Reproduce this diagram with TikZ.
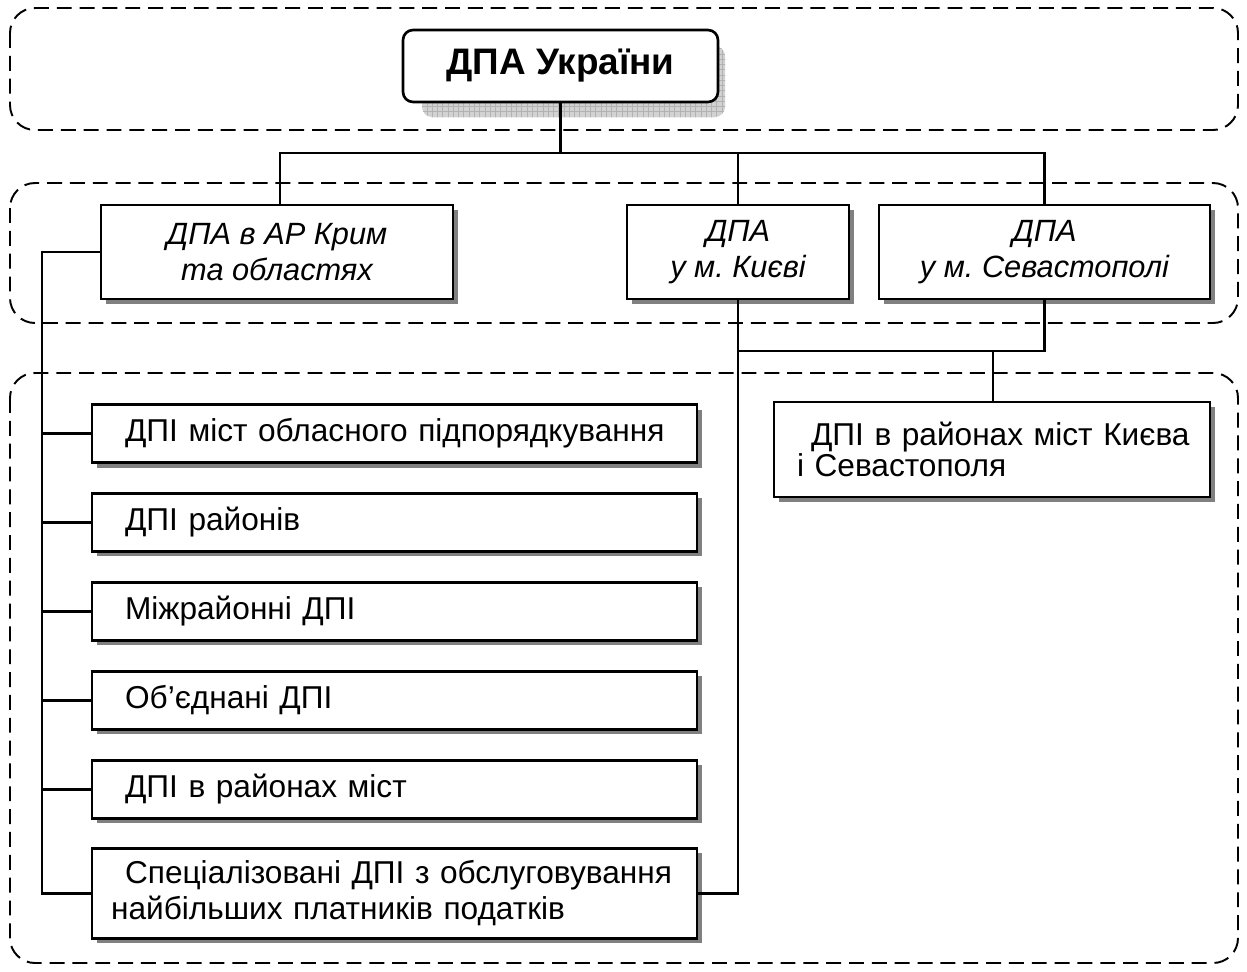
\documentclass[tikz,border=0pt]{standalone}
\usepackage{fontspec}
\setmainfont{Liberation Sans}
\frenchspacing
\usetikzlibrary{positioning,shadows,patterns}

\begin{document}
\begin{tikzpicture}[x=0.02cm,y=-0.02cm]
\tikzstyle{grp}=[dash pattern=on 8.5pt off 4.5pt, line width=1.1pt, rounded corners=0.5cm]
\tikzstyle{unit}=[draw, fill=white, line width=1.4pt, inner sep=0pt,
font=\fontsize{17.5}{20.5}\selectfont\itshape, align=center, minimum height=1.88cm,
drop shadow={shadow xshift=0.1cm, shadow yshift=-0.1cm, fill=gray, opacity=1}]
\tikzstyle{office}=[unit, font=\fontsize{18}{20.5}\selectfont, align=left,
text width=11.9cm, inner xsep=0.1cm, minimum height=1.16cm, node distance=1.78cm]
\tikzstyle{link}=[line width=1.4pt]
\useasboundingbox (0,0) rectangle (1247,971);

% dashed groups
\draw[grp] (10,8) rectangle (1238,130);
\draw[grp] (10,183) rectangle (1238,323);
\draw[grp] (10,373) rectangle (1238,963);

% head with grid shadow
\path[rounded corners=0.2cm, fill=gray!35, postaction={pattern=grid, pattern color=gray!60}] (422,46) rectangle (725,117);
\node[draw, fill=white, line width=1.5pt, rounded corners=0.2cm, minimum width=6.3cm, minimum height=1.44cm,
font=\fontsize{21}{24}\selectfont\bfseries] (head) at (560.5,66) {ДПА України};

% second level
\node[unit, minimum width=7.04cm] (crimea) at (277,252) {ДПА в АР Крим\\та областях};
\node[unit, minimum width=4.44cm] (kyiv) at (738,252) {ДПА\\у м. Києві};
\node[unit, minimum width=6.62cm] (sev) at (1044.5,252) {ДПА\\у м. Севастополі};

% third level
\node[office] at (394.5,433.5) (dpi1) {\hspace*{0.56cm}ДПІ міст обласного підпорядкування};
\node[office, below of =dpi1] (dpi2) {\hspace*{0.56cm}ДПІ районів};
\node[office, below of =dpi2] (dpi3) {\hspace*{0.56cm}Міжрайонні ДПІ};
\node[office, below of =dpi3] (dpi4) {\hspace*{0.56cm}Об’єднані ДПІ};
\node[office, below of =dpi4] (dpi5) {\hspace*{0.56cm}ДПІ в районах міст};
\node[office, below of =dpi5, yshift=-0.3cm, minimum height=1.8cm] (dpi6) {\hspace*{0.56cm}Спеціалізовані ДПІ з обслуговування\\\hspace*{0.28cm}найбільших платників податків};
\node[office, text width=8.52cm, minimum height=1.9cm, font=\fontsize{18}{17.6}\selectfont] at (992,449.5) (rdpi)
  {\hspace*{0.64cm}ДПІ в районах міст Києва\\\hspace*{0.36cm}і Севастополя};

% connectors
\coordinate (ja) at (280,153);
\coordinate (jb) at (738,351);
\coordinate (jr) at (993,351);
\coordinate (jl) at (42,252);

\draw[link] (head.south) -- (head.south |- ja);
\draw[link] (crimea.north -| ja) -- (ja) -| (sev.north);
\draw[link] (kyiv.north) -- (kyiv.north |- ja);
\draw[link] (sev.south) |- (jb);
\draw[link] (kyiv.south) -- (kyiv.south |- dpi6.east) -- (dpi6.east);
\draw[link] (jr) -- (rdpi.north -| jr);
\draw[link] (crimea.west) -- (crimea.west -| jl) -- (jl |- dpi6.west) -- (dpi6.west);
\foreach \n in {1,...,5}
  \draw[link] (dpi\n.west) -- (dpi\n.west -| jl);

\end{tikzpicture}
\end{document}
